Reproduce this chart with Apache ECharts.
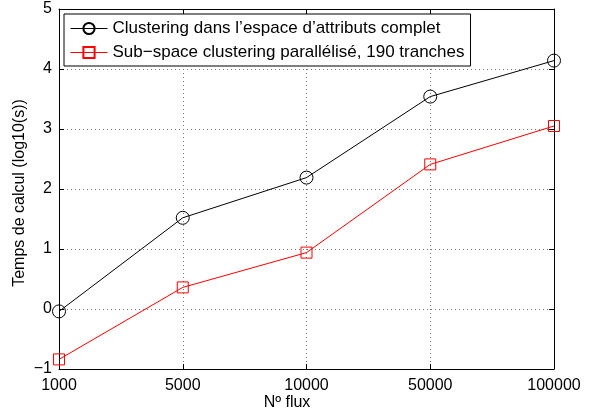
<!DOCTYPE html>
<html>
<head>
<meta charset="utf-8">
<script src="https://cdn.jsdelivr.net/npm/echarts@6/dist/echarts.min.js"></script>
<style>
  html, body { margin: 0; padding: 0; background: #fff; }
  #chart { width: 590px; height: 412px; }
</style>
</head>
<body>
<div id="chart"></div>
<script>
// Number of flows (categorical x axis)
const categories = ['1000', '5000', '10000', '50000', '100000'];
// Computation time, log10(seconds)
const fullSpace = [-0.04, 1.52, 2.19, 3.54, 4.14];
const subSpace = [-0.84, 0.36, 0.94, 2.41, 3.05];
const seriesNames = [
  'Clustering dans l\u2019espace d\u2019attributs complet',
  'Sub\u2212space clustering parall\u00e9lis\u00e9, 190 tranches'
];
const yTicks = { min: -1, max: 5, step: 1 };

const font = 'Liberation Sans, Arial, Helvetica, sans-serif';
const chart = echarts.init(document.getElementById('chart'), null, { renderer: 'canvas' });

const fmtY = v => (v < 0 ? '\u2212' + Math.abs(v) : String(v));
const tickStyle = { inside: true, length: 5, lineStyle: { color: '#000', width: 1 } };
const gridLine = { show: true, lineStyle: { color: '#777', type: [1, 3], width: 1 } };

chart.setOption({
  animation: false,
  backgroundColor: '#fff',
  textStyle: { fontFamily: font, color: '#000' },
  grid: { left: 59, top: 9, right: 36, bottom: 43, containLabel: false, outerBoundsMode: 'none' },
  legend: {
    orient: 'vertical',
    left: 64, top: 14,
    padding: [6, 6, 5, 6],
    itemGap: 7,
    itemWidth: 37, itemHeight: 14,
    backgroundColor: '#fff',
    borderColor: '#000', borderWidth: 1,
    lineStyle: { width: 1 },
    textStyle: { fontFamily: font, fontSize: 17, color: '#000' },
    data: seriesNames
  },
  xAxis: [
    {
      type: 'category', data: categories, boundaryGap: false,
      name: 'N\u00ba flux', nameLocation: 'middle', nameGap: 26, nameMoveOverlap: false,
      nameTextStyle: { fontFamily: font, fontSize: 16, color: '#000', padding: [0, 39, 0, 0] },
      axisLine: { onZero: false, lineStyle: { color: '#000', width: 1 } },
      axisTick: tickStyle,
      axisLabel: { fontFamily: font, fontSize: 16, color: '#000', margin: 9 },
      splitLine: gridLine
    },
    {
      type: 'category', data: categories, boundaryGap: false, position: 'top',
      axisLine: { onZero: false, lineStyle: { color: '#000', width: 1 } },
      axisTick: tickStyle,
      axisLabel: { show: false }, splitLine: { show: false }
    }
  ],
  yAxis: [
    {
      type: 'value', min: yTicks.min, max: yTicks.max, interval: yTicks.step,
      name: 'Temps de calcul (log10(s))', nameLocation: 'middle', nameGap: 31, nameMoveOverlap: false,
      nameTextStyle: { fontFamily: font, fontSize: 16, color: '#000', padding: [0, 8, 0, 0] },
      axisLine: { show: true, onZero: false, lineStyle: { color: '#000', width: 1 } },
      axisTick: Object.assign({ show: true }, tickStyle),
      axisLabel: { fontFamily: font, fontSize: 16, color: '#000', margin: 7, formatter: fmtY },
      splitLine: gridLine
    },
    {
      type: 'value', min: yTicks.min, max: yTicks.max, interval: yTicks.step, position: 'right',
      axisLine: { show: true, onZero: false, lineStyle: { color: '#000', width: 1 } },
      axisTick: Object.assign({ show: true }, tickStyle),
      axisLabel: { show: false }, splitLine: { show: false }
    }
  ],
  series: [
    {
      name: seriesNames[0], type: 'line', data: fullSpace,
      symbol: 'circle', symbolSize: 13,
      lineStyle: { color: '#000', width: 1 },
      itemStyle: { color: 'rgba(0,0,0,0)', borderColor: '#000', borderWidth: 1 },
      z: 3
    },
    {
      name: seriesNames[1], type: 'line', data: subSpace,
      symbol: 'rect', symbolSize: 11,
      lineStyle: { color: '#f00', width: 1 },
      itemStyle: { color: 'rgba(0,0,0,0)', borderColor: '#f00', borderWidth: 1 },
      z: 3
    }
  ]
});
</script>
</body>
</html>
